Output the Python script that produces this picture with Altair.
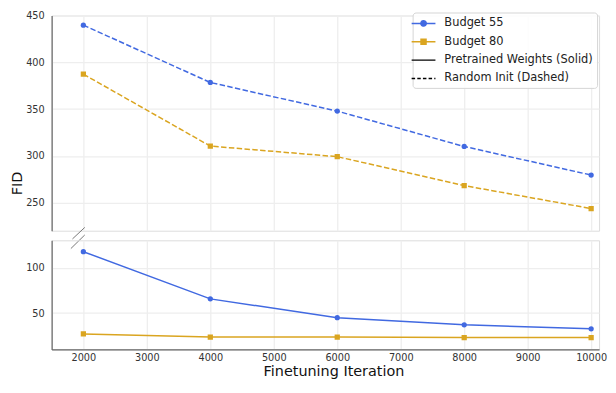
import altair as alt
import pandas as pd

# ---- data ----
iterations = [2000, 4000, 6000, 8000, 10000]
budget55_random = [439.7, 378.4, 347.8, 310.0, 279.5]
budget80_random = [387.3, 310.4, 299.1, 268.2, 243.7]
budget55_pretrained = [117.5, 65.6, 44.9, 37.1, 32.7]
budget80_pretrained = [27.0, 23.6, 23.6, 23.0, 23.0]

budgets = ["Budget 55", "Budget 80"]
budget_colors = ["#4169E1", "#DAA520"]
budget_shapes = ["circle", "square"]
legend_labels = ["Budget 55", "Budget 80", "Pretrained Weights (Solid)", "Random Init (Dashed)"]
legend_strokes = ["#4169E1", "#DAA520", "#000000", "#000000"]
legend_fills = ["#4169E1", "#DAA520", "transparent", "transparent"]
legend_dashes = [[1, 0], [1, 0], [1, 0], [3.5, 2.2]]
x_ticks = [2000, 3000, 4000, 5000, 6000, 7000, 8000, 9000, 10000]
top_ticks = [250, 300, 350, 400, 450]
bottom_ticks = [50, 100]
x_title = "Finetuning Iteration"
y_title = "FID"

rows = []
for b, rnd, pre in zip(budgets, [budget55_random, budget80_random],
                       [budget55_pretrained, budget80_pretrained]):
    for it, r, p in zip(iterations, rnd, pre):
        rows.append({"iteration": it, "fid": r, "budget": b, "init": "random"})
        rows.append({"iteration": it, "fid": p, "budget": b, "init": "pretrained"})
df = pd.DataFrame(rows)
legend_df = pd.DataFrame({"entry": legend_labels})

FONT = "DejaVu Sans"
GRID = "#eeeeee"
SPINE = "#666666"
DASH = [5.5, 2.4]
W = 552
TOP_H = 217
BOT_H = 110
x_domain = [1500, 10125]

# legend symbols: a line sample with the marker drawn on it
line_path = "M-2,0H2"
circle_path = "M-2,0H2M-0.45,0A0.45,0.45,0,1,1,0.45,0A0.45,0.45,0,1,1,-0.45,0Z"
square_path = "M-2,0H2M-0.42,-0.42H0.42V0.42H-0.42Z"
legend_paths = [circle_path, square_path, line_path, line_path]

legend = alt.Legend(
    title=None,
    orient="none",
    legendX=364,
    legendY=-3,
    padding=4,
    rowPadding=5.5,
    labelOffset=14,
    symbolSize=144,
    symbolStrokeWidth=1.5,
    symbolOpacity=1,
    symbolFillColor="transparent",
    symbolStrokeColor="#000000",
    labelFont=FONT,
    labelFontSize=11.5,
    labelColor="#222222",
    strokeColor="#d4d4d4",
    fillColor="rgba(255,255,255,0.85)",
    cornerRadius=3,
)

color_scale = alt.Scale(domain=budgets, range=budget_colors)

x_top = alt.X("iteration:Q", scale=alt.Scale(domain=x_domain, nice=False, zero=False),
              axis=alt.Axis(values=x_ticks, labels=False, ticks=False, domain=False,
                            title=None, grid=True, gridColor=GRID, gridWidth=1.3))
y_top = alt.Y("fid:Q", scale=alt.Scale(domain=[220, 450], nice=False, zero=False),
              axis=alt.Axis(values=top_ticks, ticks=False, labelPadding=7.5,
                            grid=True, gridColor=GRID, gridWidth=1.3,
                            domainColor=SPINE, domainWidth=1.2,
                            labelFont=FONT, labelFontSize=9.8, labelColor="#333333",
                            title=y_title, titleFont=FONT, titleFontSize=14.5,
                            titleFontWeight="normal", titleColor="#111111",
                            titleAngle=270, titleAlign="center", titleBaseline="alphabetic",
                            titleX=-30.6, titleY=169))

base_top = alt.Chart(df).transform_filter(alt.datum.init == "random")
top_line = base_top.mark_line(strokeWidth=1.5, strokeDash=DASH, clip=True).encode(
    x=x_top, y=y_top,
    color=alt.Color("budget:N", scale=color_scale, legend=None))
top_pts = [
    base_top.transform_filter(alt.datum.budget == b).mark_point(
        filled=True, size=28, opacity=1, shape=s, clip=True).encode(
        x=x_top, y=y_top, color=alt.Color("budget:N", scale=color_scale, legend=None))
    for b, s in zip(budgets, budget_shapes)
]

# invisible carrier of the legend (clipped away), legend built from the label lists
legend_layer = alt.Chart(legend_df).mark_point(clip=True, opacity=1, strokeWidth=1.5).encode(
    x=alt.value(-60), y=alt.value(-60),
    stroke=alt.Stroke("entry:N", scale=alt.Scale(domain=legend_labels, range=legend_strokes), legend=legend),
    fill=alt.Fill("entry:N", scale=alt.Scale(domain=legend_labels, range=legend_fills), legend=legend),
    shape=alt.Shape("entry:N", scale=alt.Scale(domain=legend_labels, range=legend_paths), legend=legend),
    strokeDash=alt.StrokeDash("entry:N", scale=alt.Scale(domain=legend_labels, range=legend_dashes), legend=legend),
)

brk = alt.Chart(pd.DataFrame({"k": [0]}))
break1 = brk.mark_rule(color="#777777", strokeWidth=1).encode(
    x=alt.value(21), x2=alt.value(33.4), y=alt.value(225.3), y2=alt.value(213.7))
break2 = brk.mark_rule(color="#777777", strokeWidth=1).encode(
    x=alt.value(19.4), x2=alt.value(33.4), y=alt.value(235), y2=alt.value(221.3))

top = alt.layer(top_line, *top_pts, break1, break2, legend_layer).properties(width=W, height=TOP_H)

x_bot = alt.X("iteration:Q", scale=alt.Scale(domain=x_domain, nice=False, zero=False),
              axis=alt.Axis(values=x_ticks, format="d", ticks=False, labelPadding=3,
                            grid=True, gridColor=GRID, gridWidth=1.3,
                            domainColor=SPINE, domainWidth=1.2,
                            labelFont=FONT, labelFontSize=9.8, labelColor="#333333",
                            title=x_title, titleFont=FONT, titleFontSize=14.5,
                            titleFontWeight="normal", titleColor="#111111",
                            titleBaseline="alphabetic", titleAlign="center",
                            titleX=284.2, titleY=26.5))
y_bot = alt.Y("fid:Q", scale=alt.Scale(domain=[10, 130], nice=False, zero=False),
              axis=alt.Axis(values=bottom_ticks, ticks=False, labelPadding=7.5,
                            grid=True, gridColor=GRID, gridWidth=1.3,
                            domainColor=SPINE, domainWidth=1.2,
                            labelFont=FONT, labelFontSize=9.8, labelColor="#333333",
                            title=None))

base_bot = alt.Chart(df).transform_filter(alt.datum.init == "pretrained")
bot_line = base_bot.mark_line(strokeWidth=1.5, clip=True).encode(
    x=x_bot, y=y_bot,
    color=alt.Color("budget:N", scale=color_scale, legend=None))
bot_pts = [
    base_bot.transform_filter(alt.datum.budget == b).mark_point(
        filled=True, size=28, opacity=1, shape=s, clip=True).encode(
        x=x_bot, y=y_bot, color=alt.Color("budget:N", scale=color_scale, legend=None))
    for b, s in zip(budgets, budget_shapes)
]

bottom = alt.layer(bot_line, *bot_pts).properties(width=W, height=BOT_H)

chart = alt.vconcat(top, bottom, spacing=9.7, bounds="flush").resolve_scale(
    color="independent", shape="independent", x="independent", y="independent",
    stroke="independent", fill="independent", strokeDash="independent"
).properties(
    padding={"left": 0, "top": 0, "right": 0, "bottom": 0}
).configure_view(stroke=None).configure(font=FONT)

chart.save("out.html", embed_options={"renderer": "svg", "actions": False})
